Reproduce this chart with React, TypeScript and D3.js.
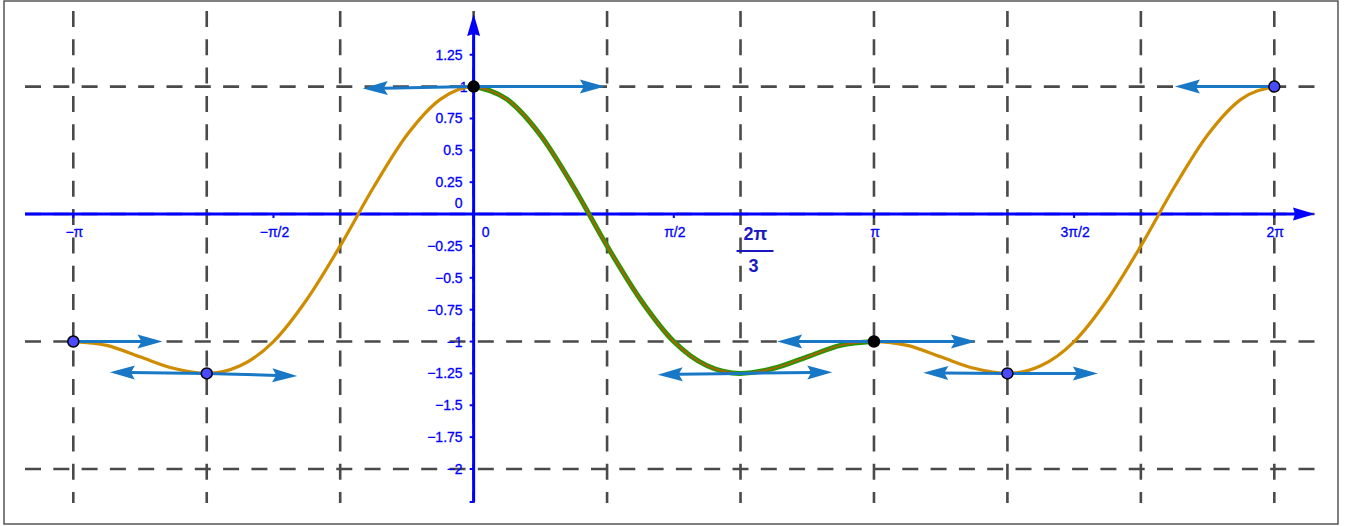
import React, { useEffect, useRef } from 'react'
import * as d3 from 'd3'

const PI = Math.PI

// curve samples: x in steps of pi/12, y
const curveSteps = [-12, -11, -10, -9, -8, -7, -6, -5, -4, -3, -2, -1, 0, 1, 2, 3, 4, 5, 6, 7, 8, 9, 10, 11, 12,
    13, 14, 15, 16, 17, 18, 19, 20, 21, 22, 23, 24]
const curveValues = [-1, -1.03, -1.12, -1.21, -1.25, -1.19, -1, -0.67, -0.25, 0.21, 0.62, 0.9, 1, 0.9, 0.62, 0.21,
    -0.25, -0.67, -1, -1.19, -1.25, -1.21, -1.12, -1.03, -1, -1.03, -1.12, -1.21, -1.25, -1.19, -1, -0.67, -0.25,
    0.21, 0.62, 0.9, 1]
// highlighted part (green), in pi/12 steps
const greenFrom = 0
const greenTo = 12

// grid
const gridXSteps = [-3, -2, -1, 0, 1, 2, 3, 4, 5, 6] // pi/3 units
const gridYValues = [-2, -1, 0, 1]

// axis ticks
const xTickSteps = [-2, -1, 1, 2, 3, 4] // pi/2 units
const xTickLabels = ['−π', '−π/2', 'π/2', 'π', '3π/2', '2π']
const yTickValues = [1.25, 1, 0.75, 0.5, 0.25, -0.25, -0.5, -0.75, -1, -1.25, -1.5, -1.75, -2]
const yTickLabels = ['1.25', '1', '0.75', '0.5', '0.25', '−0.25', '−0.5', '−0.75', '−1', '−1.25', '−1.5', '−1.75', '−2']

// marked points (x in pi/3 units)
const pointSteps = [-3, -2, 0, 3, 4, 6]
const pointValues = [-1, -1.25, 1, -1, -1.25, 1]
const pointBlack = [false, false, true, true, false, false]

// tangent vectors: anchor (pi/3 units, y) and offset to the tip
const vecSteps = [-3, -2, -2, 0, 0, 2, 2, 3, 3, 4, 4, 6]
const vecValues = [-1, -1.25, -1.25, 1, 1, -1.25, -1.25, -1, -1, -1.25, -1.25, 1]
const vecDx = [0.7, -0.76, 0.71, -0.87, 1.03, -0.65, 0.72, -0.76, 0.8, -0.66, 0.71, -0.78]
const vecDy = [0, 0.01, -0.02, -0.015, 0, -0.01, 0.01, 0, 0, 0.005, 0, 0]

function arrowHead(tx: number, ty: number, ux: number, uy: number, len: number, hw: number, notch: number) {
    const bx = tx - ux * len, by = ty - uy * len
    const nx = -uy, ny = ux
    const p = [
        [tx, ty],
        [bx + nx * hw, by + ny * hw],
        [bx + ux * notch, by + uy * notch],
        [bx - nx * hw, by - ny * hw],
    ]
    return 'M' + p.map(d => d.join(',')).join('L') + 'Z'
}

function Chart() {
    const ref = useRef<SVGSVGElement>(null)

    useEffect(() => {
        const svg = d3.select(ref.current)
        svg.selectAll('*').remove()

        const x = d3.scaleLinear().domain([-PI, 2 * PI]).range([73.3, 1274.3])
        const y = d3.scaleLinear().domain([-2, 1]).range([469, 86.6])
        const view = { left: 25, right: 1318, top: 11, bottom: 503 }
        const axisBlue = '#0000ff'
        const vecBlue = '#1878c6'

        // frame
        svg.append('rect')
            .attr('x', 4).attr('y', 1).attr('width', 1334).attr('height', 523)
            .attr('fill', '#fff').attr('stroke', '#555').attr('stroke-width', 1.5)

        // grid
        const grid = svg.append('g').attr('stroke', '#4a4a4a').attr('stroke-width', 2.6)
            .attr('stroke-dasharray', '16 12.3')
        grid.selectAll('.gx').data(gridXSteps).join('line')
            .attr('x1', d => x(d * PI / 3)).attr('x2', d => x(d * PI / 3))
            .attr('y1', view.top).attr('y2', view.bottom)
        grid.selectAll('.gy').data(gridYValues).join('line')
            .attr('y1', d => y(d)).attr('y2', d => y(d))
            .attr('x1', view.left).attr('x2', view.right)

        // axes
        const x0 = x(0), y0 = y(0)
        svg.append('line').attr('x1', view.left).attr('x2', 1296).attr('y1', y0).attr('y2', y0)
            .attr('stroke', axisBlue).attr('stroke-width', 3)
        svg.append('path').attr('d', arrowHead(1315, y0, 1, 0, 22, 6.5, 2)).attr('fill', axisBlue)
        svg.append('line').attr('x1', x0).attr('x2', x0).attr('y1', 502).attr('y2', 34)
            .attr('stroke', axisBlue).attr('stroke-width', 3)
        svg.append('path').attr('d', arrowHead(x0, 14, 0, -1, 22, 6.5, 2)).attr('fill', axisBlue)

        // ticks
        svg.append('g').selectAll('line').data(xTickSteps).join('line')
            .attr('x1', d => x(d * PI / 2)).attr('x2', d => x(d * PI / 2))
            .attr('y1', y0).attr('y2', y0 + 4)
            .attr('stroke', axisBlue).attr('stroke-width', 2)
        svg.append('g').selectAll('line').data(yTickValues).join('line')
            .attr('x1', x0 - 4).attr('x2', x0)
            .attr('y1', d => y(d)).attr('y2', d => y(d))
            .attr('stroke', axisBlue).attr('stroke-width', 2)
        svg.append('line').attr('x1', x0 - 4).attr('x2', x0).attr('y1', 502).attr('y2', 502)
            .attr('stroke', axisBlue).attr('stroke-width', 2)

        // tick labels
        const labels = svg.append('g')
            .attr('font-family', '"Liberation Sans", Arial, sans-serif')
            .attr('font-size', 14).attr('fill', axisBlue)
            .attr('stroke', axisBlue).attr('stroke-width', 0.3)
        labels.selectAll('.xl').data(xTickSteps).join('text')
            .attr('x', d => x(d * PI / 2) + 1).attr('y', y0 + 23)
            .attr('text-anchor', 'middle')
            .text((d, i) => xTickLabels[i])
        labels.selectAll('.yl').data(yTickValues).join('text')
            .attr('x', (d) => d === 1 ? x0 - 6 : x0 - 11).attr('y', d => y(d) + 5)
            .attr('text-anchor', 'end')
            .text((d, i) => yTickLabels[i])
        labels.append('text').attr('x', x0 - 11).attr('y', y0 - 6).attr('text-anchor', 'end').text('0')
        labels.append('text').attr('x', x0 + 8).attr('y', y0 + 23).text('0')

        // 2pi/3 label as a fraction
        const frac = svg.append('g')
            .attr('font-family', '"Liberation Sans", Arial, sans-serif')
            .attr('font-size', 18).attr('font-weight', 'bold').attr('fill', '#1a1ac0')
            .attr('text-anchor', 'middle')
        const fx = x(2 * PI / 3) + 15
        frac.append('text').attr('x', fx).attr('y', y0 + 26).text('2π')
        frac.append('line').attr('x1', fx - 19).attr('x2', fx + 18)
            .attr('y1', y0 + 37).attr('y2', y0 + 37)
            .attr('stroke', '#1a1ac0').attr('stroke-width', 2)
        frac.append('text').attr('x', fx - 2).attr('y', y0 + 58).text('3')

        // curve
        const pts: [number, number][] = curveSteps.map((k, i) => [k * PI / 12, curveValues[i]])
        const line = d3.line<[number, number]>()
            .x(d => x(d[0])).y(d => y(d[1]))
            .curve(d3.curveMonotoneX)
        svg.append('path').attr('d', line(pts))
            .attr('fill', 'none').attr('stroke', '#d08c00').attr('stroke-width', 3.2)
            .attr('stroke-linejoin', 'round')
        const greenPts = pts.filter((d, i) => curveSteps[i] >= greenFrom && curveSteps[i] <= greenTo)
        svg.append('path').attr('d', line(greenPts))
            .attr('fill', 'none').attr('stroke', '#1e9a00').attr('stroke-width', 5)
        svg.append('path').attr('d', line(greenPts))
            .attr('fill', 'none').attr('stroke', '#a8620a').attr('stroke-width', 2)

        // tangent vectors
        const vecs = svg.append('g')
        vecSteps.forEach((k, i) => {
            const ax = x(k * PI / 3), ay = y(vecValues[i])
            const tx = x(k * PI / 3 + vecDx[i]), ty = y(vecValues[i] + vecDy[i])
            const len = Math.hypot(tx - ax, ty - ay)
            const ux = (tx - ax) / len, uy = (ty - ay) / len
            vecs.append('line')
                .attr('x1', ax).attr('y1', ay)
                .attr('x2', tx - ux * 20).attr('y2', ty - uy * 20)
                .attr('stroke', vecBlue).attr('stroke-width', 3)
            vecs.append('path').attr('d', arrowHead(tx, ty, ux, uy, 25, 7, 4)).attr('fill', vecBlue)
        })

        // points
        svg.append('g').selectAll('circle').data(pointSteps).join('circle')
            .attr('cx', d => x(d * PI / 3))
            .attr('cy', (d, i) => y(pointValues[i]))
            .attr('r', 5.5)
            .attr('fill', (d, i) => pointBlack[i] ? '#000' : '#4a4aff')
            .attr('stroke', '#000').attr('stroke-width', 1.5)
    }, [])

    return <svg ref={ref} width={1346} height={526} style={{ position: 'absolute', left: 0, top: 0 }} />
}

export default function App() {
    return <Chart />
}
